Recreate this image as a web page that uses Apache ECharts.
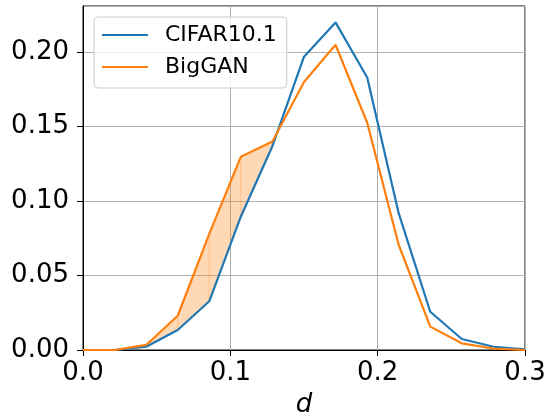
<!DOCTYPE html>
<html>
<head>
<meta charset="utf-8">
<script src="https://cdn.jsdelivr.net/npm/echarts@6/dist/echarts.min.js"></script>
<style>
  html, body { margin: 0; padding: 0; background: #fff; }
  #chart { width: 547px; height: 418px; }
</style>
</head>
<body>
<div id="chart"></div>
<script>
// d values (bin centres)
const dValues = [0, 0.0214, 0.0429, 0.0643, 0.0857, 0.1071, 0.1286, 0.15, 0.1714, 0.1929, 0.2143, 0.2357, 0.2571, 0.2786, 0.3]
const cifarValues = [0, 0, 0.0022, 0.0134, 0.0327, 0.0895, 0.137, 0.197, 0.220, 0.183, 0.0917, 0.0257, 0.0074, 0.0022, 0.0005]
const bigganValues = [0, 0, 0.0034, 0.023, 0.078, 0.1297, 0.140, 0.180, 0.205, 0.1526, 0.0705, 0.0157, 0.0045, 0.001, 0]
const xTicks = [0, 0.1, 0.2, 0.3]
const yTicks = [0, 0.05, 0.1, 0.15, 0.2]

const blue = '#1f77b4'
const orange = '#ff7f0e'
const font = 'DejaVu Sans'

// fill between the two curves where BigGAN is above CIFAR10.1
const above = dValues.map((d, i) => bigganValues[i] > cifarValues[i])
const fillData = dValues.map((d, i) => [d, cifarValues[i], bigganValues[i]])

function renderFill(params, api) {
  const i = params.dataIndex
  if (i >= dValues.length - 1 || !above[i] || !above[i + 1]) return null
  const pts = [
    api.coord([dValues[i], cifarValues[i]]),
    api.coord([dValues[i + 1], cifarValues[i + 1]]),
    api.coord([dValues[i + 1], bigganValues[i + 1]]),
    api.coord([dValues[i], bigganValues[i]])
  ]
  return {
    type: 'polygon',
    shape: { points: pts },
    style: { fill: 'rgba(255,127,14,0.3)', stroke: 'rgba(255,127,14,0.3)', lineWidth: 0.5 }
  }
}

const chart = echarts.init(document.getElementById('chart'))

chart.setOption({
  animation: false,
  grid: {
    left: 83,
    right: 22,
    top: 6,
    bottom: 68,
    outerBoundsMode: 'none',
    containLabel: false,
    show: true,
    borderColor: '#000',
    borderWidth: 1,
    backgroundColor: 'transparent'
  },
  legend: {
    data: ['CIFAR10.1', 'BigGAN'],
    orient: 'vertical',
    left: 94,
    top: 17,
    icon: 'rect',
    itemWidth: 46,
    itemHeight: 2,
    itemGap: 10,
    padding: [7, 10, 10, 8],
    backgroundColor: 'rgba(255,255,255,0.8)',
    borderColor: '#cccccc',
    borderWidth: 1,
    borderRadius: 4,
    textStyle: {
      fontFamily: font,
      fontSize: 22,
      lineHeight: 22,
      color: '#000',
      padding: [0, 0, 0, 12]
    }
  },
  xAxis: {
    type: 'value',
    min: xTicks[0],
    max: xTicks[xTicks.length - 1],
    interval: 0.1,
    name: 'd',
    nameLocation: 'middle',
    nameGap: 42,
    nameTextStyle: {
      fontFamily: font,
      fontStyle: 'italic',
      fontSize: 26,
      color: '#000'
    },
    axisLine: { show: true, lineStyle: { color: '#000', width: 1 } },
    axisTick: { show: true, inside: false, length: 6, lineStyle: { color: '#000' } },
    axisLabel: {
      fontFamily: font,
      fontSize: 26,
      color: '#000',
      margin: 10,
      formatter: v => v.toFixed(1)
    },
    splitLine: { show: true, lineStyle: { color: '#b0b0b0', width: 1 } }
  },
  yAxis: {
    type: 'value',
    min: yTicks[0],
    max: 0.231,
    interval: 0.05,
    axisLine: { show: true, lineStyle: { color: '#000', width: 1 } },
    axisTick: { show: true, inside: false, length: 6, lineStyle: { color: '#000' } },
    axisLabel: {
      fontFamily: font,
      fontSize: 26,
      color: '#000',
      margin: 14,
      showMaxLabel: false,
      formatter: v => v.toFixed(2)
    },
    splitLine: { show: true, lineStyle: { color: '#b0b0b0', width: 1 } }
  },
  series: [
    {
      name: 'fill',
      type: 'custom',
      data: fillData,
      encode: { x: 0, y: [1, 2] },
      renderItem: renderFill,
      silent: true,
      z: 1
    },
    {
      name: 'CIFAR10.1',
      type: 'line',
      data: dValues.map((d, i) => [d, cifarValues[i]]),
      symbol: 'none',
      color: blue,
      lineStyle: { color: blue, width: 2.2 },
      z: 3
    },
    {
      name: 'BigGAN',
      type: 'line',
      data: dValues.map((d, i) => [d, bigganValues[i]]),
      symbol: 'none',
      color: orange,
      lineStyle: { color: orange, width: 2.2 },
      z: 4
    }
  ]
})
</script>
</body>
</html>
